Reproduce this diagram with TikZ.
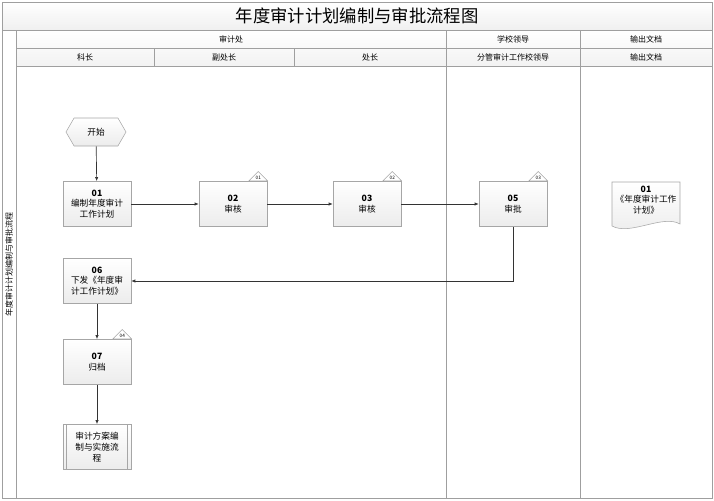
\documentclass[tikz,border=0pt]{standalone}
\usepackage{fontspec}
\setmainfont{Noto Sans CJK SC}
\usetikzlibrary{shapes.geometric,shapes.symbols,shapes.multipart,arrows.meta,calc}
\begin{document}
\begin{tikzpicture}[x=0.75pt,y=-0.75pt,
  line/.style={draw=gray!75,line width=0.5pt},
  box/.style={draw=gray!70,top color=white,bottom color=gray!15,minimum width=51pt,minimum height=34pt,inner sep=1pt,align=center,font=\fontsize{6.5}{8}\selectfont},
  tri/.style={draw=gray!70,fill=white,isosceles triangle,shape border rotate=90,isosceles triangle apex angle=90,inner sep=0.5pt,minimum height=7pt,minimum width=13pt,font=\fontsize{3.5}{4}\selectfont},
  hdr/.style={font=\fontsize{6}{7}\selectfont},
  arr/.style={draw=gray!40!black,line width=0.5pt,-{Latex[length=3pt,width=2.5pt]}}]
\useasboundingbox (0,0) rectangle (714,500);
\shade[top color=white,bottom color=gray!12] (2,2) rectangle (712,30);
\draw[line] (2,2) rectangle (712,498);
\node[font=\fontsize{13}{15}\selectfont] (title) at (357,16) {年度审计计划编制与审批流程图};
\draw[line] (2,30) -- (712,30);
\draw[line] (16,30) -- (16,498);
\node[rotate=90,hdr] (lane) at (9,264) {年度审计计划编制与审批流程};
\shade[top color=white,bottom color=gray!10] (16,30) rectangle (712,66);
\draw[line] (16,48) -- (712,48) (16,66) -- (712,66);
\draw[line] (154,48) -- (154,66) (294,48) -- (294,66);
\draw[line] (446,30) -- (446,498) (580,30) -- (580,498);
\draw[line] (16,30) rectangle (712,66);
\node[hdr] (h1) at (231,39) {审计处};
\node[hdr] (h2) at (513,39) {学校领导};
\node[hdr] (h3) at (646,39) {输出文档};
\node[hdr] (s1) at (85,57) {科长};
\node[hdr] (s2) at (224,57) {副处长};
\node[hdr] (s3) at (370,57) {处长};
\node[hdr] (s4) at (513,57) {分管审计工作校领导};
\node[hdr] (s5) at (646,57) {输出文档};

\node[draw=gray!70,top color=white,bottom color=gray!15,signal,signal to=west and east,signal pointer angle=120,minimum width=45pt,minimum height=21pt,font=\fontsize{6.5}{8}\selectfont] (start) at (96,132) {开始};
\node[box] (n01) at (97,204) {\textbf{01}\\编制年度审计\\工作计划};
\node[box] (n02) at (233,204) {\textbf{02}\\审核};
\node[box] (n03) at (367,204) {\textbf{03}\\审核};
\node[box] (n05) at (513,204) {\textbf{05}\\审批};
\node[box] (n06) at (97,281) {\textbf{06}\\下发《年度审\\计工作计划》};
\node[box] (n07) at (97,362) {\textbf{07}\\归档};
\node[box] (n08) at (97,447) {审计方案编\\制与实施流\\程};
\draw[draw=gray!70] ($(n08.north west)+(4,0)$) -- ($(n08.south west)+(4,0)$) ($(n08.north east)+(-4,0)$) -- ($(n08.south east)+(-4,0)$);
\node[tri,anchor=south] (t1) at ($(n02.north east)+(-9,0)$) {01};
\node[tri,anchor=south] (t2) at ($(n03.north east)+(-9,0)$) {02};
\node[tri,anchor=south] (t3) at ($(n05.north east)+(-9,0)$) {03};
\node[tri,anchor=south] (t4) at ($(n07.north east)+(-9,0)$) {04};

\path[draw=gray!70,top color=white,bottom color=gray!15] (612,182) -- (680,182) -- (680,224) .. controls (663,214) and (630,236) .. (612,226) -- cycle;
\node[align=center,font=\fontsize{6.5}{8}\selectfont] (doc) at (646,200) {\textbf{01}\\《年度审计工作\\计划》};

\draw[arr] (start) -- (n01);
\draw[arr] (n01) -- (n02);
\draw[arr] (n02) -- (n03);
\draw[arr] (n03) -- (n05);
\draw[arr] (n05.south) |- (n06.east);
\draw[arr] (n06) -- (n07);
\draw[arr] (n07) -- (n08);
\end{tikzpicture}
\end{document}
